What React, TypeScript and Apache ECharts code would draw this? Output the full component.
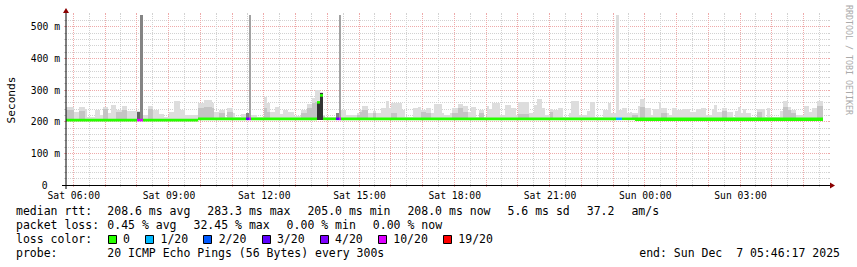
import { useEffect, useRef } from 'react';
import * as echarts from 'echarts';

// ---------- time / value frame ----------
const START_MINUTE = 346.28; // Sat 05:46:17 as minutes since Sat 00:00
const SPAN_MINUTES = 1440;
const STEP_MINUTES = 5; // one RRD step = 300 s
const Y_MAX_MS = 537;
const SMOKE_BASE_MS = 206;

// ---------- axis ticks ----------
const xTickLabels = ['Sat 06:00', 'Sat 09:00', 'Sat 12:00', 'Sat 15:00', 'Sat 18:00', 'Sat 21:00', 'Sun 00:00', 'Sun 03:00'];
const xTickMinutes = [360, 540, 720, 900, 1080, 1260, 1440, 1620];
const yTickValues = [0, 100, 200, 300, 400, 500];
const yTickLabels = ['0', '100 m', '200 m', '300 m', '400 m', '500 m'];

// ---------- smoke: [startStep, endStep, outerTopMs, innerTopMs] ----------
const smokeBlocks = [
  [0, 3, 247, 237], [3, 5, 230, 0], [5, 7, 245, 235], [7, 8, 240, 0], [8, 11, 216, 0],
  [11, 13, 237, 0], [13, 14, 221, 0], [14, 16, 247, 240], [16, 17, 226, 0], [17, 19, 253, 0],
  [19, 21, 237, 232], [21, 23, 250, 237], [23, 27, 234, 0], [27, 29, 234, 0], [29, 31, 221, 0],
  [31, 33, 250, 240], [33, 35, 237, 0], [35, 37, 223, 0], [37, 39, 216, 0], [39, 41, 232, 0],
  [41, 43, 265, 0], [43, 45, 237, 0], [45, 50, 221, 0], [50, 52, 258, 242], [52, 55, 268, 247],
  [55, 56, 258, 244], [56, 58, 232, 0], [58, 60, 237, 226], [60, 61, 216, 0], [61, 63, 242, 232],
  [63, 64, 226, 0], [64, 66, 216, 0], [66, 68, 223, 0], [70, 72, 221, 0], [72, 75, 216, 0],
  [75, 76, 279, 242], [76, 77, 258, 232], [77, 79, 232, 0], [79, 81, 247, 0], [81, 82, 223, 0],
  [82, 84, 237, 0], [84, 86, 232, 0], [86, 89, 219, 0], [89, 91, 237, 226], [91, 93, 255, 242],
  [93, 94, 274, 258], [94, 95, 300, 262], [95, 96, 300, 0], [96, 97, 295, 0], [97, 98, 221, 219],
  [98, 102, 216, 0], [104, 106, 237, 0], [106, 110, 221, 0], [110, 111, 226, 221], [111, 112, 237, 232],
  [112, 114, 250, 237], [114, 116, 226, 0], [116, 117, 234, 226], [117, 119, 226, 0], [119, 121, 242, 0],
  [121, 122, 265, 0], [122, 123, 242, 0], [123, 125, 258, 226], [125, 127, 258, 0], [127, 128, 237, 0],
  [128, 131, 216, 0], [131, 133, 242, 0], [133, 134, 247, 0], [134, 136, 237, 232], [136, 138, 242, 226],
  [138, 139, 226, 0], [139, 142, 255, 0], [142, 143, 226, 0], [143, 145, 221, 0], [145, 146, 226, 0],
  [146, 148, 242, 226], [148, 150, 255, 244], [150, 152, 250, 232], [152, 153, 232, 0], [153, 155, 247, 0],
  [155, 156, 216, 0], [156, 158, 237, 226], [158, 159, 216, 0], [159, 160, 250, 0], [160, 161, 240, 0],
  [161, 164, 258, 0], [164, 166, 221, 0], [166, 168, 253, 0], [168, 170, 242, 0], [170, 171, 221, 0],
  [171, 175, 261, 223], [175, 177, 226, 0], [177, 178, 253, 0], [178, 180, 272, 0], [180, 181, 242, 0],
  [181, 183, 221, 0], [183, 184, 240, 232], [184, 186, 237, 0], [186, 188, 244, 0], [188, 190, 216, 0],
  [190, 191, 226, 0], [191, 194, 265, 0], [194, 197, 221, 0], [197, 198, 234, 0], [198, 200, 261, 0],
  [200, 203, 216, 0], [203, 205, 237, 0], [205, 206, 258, 0], [206, 208, 226, 0], [209, 210, 237, 0],
  [210, 212, 244, 0], [212, 213, 226, 0], [213, 214, 232, 0], [214, 216, 226, 221], [216, 217, 250, 0],
  [217, 219, 272, 247], [219, 221, 244, 0], [221, 222, 221, 0], [222, 224, 240, 0], [224, 225, 261, 0],
  [225, 227, 242, 226], [227, 228, 226, 0], [228, 229, 221, 0], [229, 231, 242, 0], [231, 233, 237, 0],
  [233, 236, 240, 0], [236, 238, 232, 0], [238, 240, 240, 0], [240, 242, 244, 0], [242, 244, 221, 0],
  [244, 245, 240, 0], [245, 246, 253, 0], [246, 248, 230, 0], [248, 250, 244, 234], [250, 252, 230, 0],
  [252, 253, 216, 0], [253, 254, 234, 0], [254, 255, 247, 0], [255, 256, 226, 0], [256, 257, 240, 0],
  [257, 259, 226, 0], [259, 261, 216, 0], [261, 263, 240, 232], [263, 264, 240, 0], [264, 265, 216, 0],
  [265, 266, 242, 0], [266, 270, 216, 0], [270, 271, 234, 0], [271, 273, 265, 247], [273, 274, 247, 237],
  [274, 276, 237, 226], [276, 279, 221, 0], [279, 281, 250, 0], [281, 282, 232, 0], [282, 284, 242, 0],
  [284, 286, 265, 250],
];

// ---------- loss-affected smoke and spikes: [startStep, endStep, topMs, greyLevel] ----------
const darkBlocks = [
  [27, 29, 232, 4], [28, 29, 537, 3],
  [68, 70, 226, 3], [69, 70, 537, 2],
  [95, 96, 263, 5], [96, 97, 290, 5],
  [102, 104, 228, 3], [103, 104, 537, 2],
  [208, 209, 537, 0],
];

// ---------- median rtt: [startStep, endStep, lowMs, highMs, lossLevel] ----------
const medianSegments = [
  [0, 27, 205, 205, 0], [27, 29, 205, 205, 5], [29, 50, 205, 205, 0],
  [50, 68, 209, 209, 0], [68, 69, 209, 209, 3], [69, 70, 209, 209, 5], [70, 95, 209, 209, 0],
  [95, 96, 261, 261, 0], [96, 97, 283, 283, 0], [97, 102, 209, 209, 0],
  [102, 103, 209, 209, 3], [103, 104, 209, 209, 5], [104, 208, 209, 209, 0],
  [208, 210, 209, 209, 1], [210, 215, 209, 209, 0], [215, 286, 206.5, 209, 0],
];

// ---------- legend ----------
const rttStats = ['208.6 ms avg', '283.3 ms max', '205.0 ms min', '208.0 ms now', '5.6 ms sd', '37.2', 'am/s'];
const lossStats = ['0.45 % avg', '32.45 % max', '0.00 % min', '0.00 % now'];
const lossLabels = ['0', '1/20', '2/20', '3/20', '4/20', '10/20', '19/20'];
const probeText = '20 ICMP Echo Pings (56 Bytes) every 300s';
const endText = 'end: Sun Dec  7 05:46:17 2025';

// ---------- styles ----------
const GREYS = ['#dddddd', '#c4c4c4', '#a2a2a2', '#848484', '#626262', '#333333'];
const LOSS_COLORS = ['#26ff00', '#00b8ff', '#0059ff', '#5e00ff', '#7e00ff', '#dd00ff', '#ff0000'];
const MGRID = '#eeaaaa';
const GRID = '#d2d2d2';
const ARROW = '#8a0000';
const MONO = '"DejaVu Sans Mono"';
const font = (s: number) => `${s}px ${MONO}`;

const px = (v: number) => Math.floor(v) + 0.5;

function buildOption() {
  const gridSeries = {
    type: 'custom', z: 1, silent: true, clip: false,
    data: [[0, 0]],
    renderItem: (_p: any, api: any) => {
      const [left, bottom] = api.coord([0, 0]);
      const [right, top] = api.coord([SPAN_MINUTES, Y_MAX_MS]);
      const ch: any[] = [];
      for (let v = 20; v < Y_MAX_MS; v += 20) {
        const major = v % 100 === 0;
        const y = px(api.coord([0, v])[1]);
        const c = major ? MGRID : GRID;
        ch.push({ type: 'line', shape: { x1: left, y1: y, x2: right, y2: y }, style: { stroke: c, lineWidth: 1, lineDash: [1, 1] } });
        ch.push({ type: 'line', shape: { x1: left - 2, y1: y, x2: left, y2: y }, style: { stroke: c, lineWidth: 1 } });
        ch.push({ type: 'line', shape: { x1: right, y1: y, x2: right + 2, y2: y }, style: { stroke: c, lineWidth: 1 } });
      }
      for (let m = 360; m < START_MINUTE + SPAN_MINUTES; m += 30) {
        const major = m % 60 === 0;
        const x = px(api.coord([m - START_MINUTE, 0])[0]);
        const c = major ? MGRID : GRID;
        ch.push({ type: 'line', shape: { x1: x, y1: bottom, x2: x, y2: top }, style: { stroke: c, lineWidth: 1, lineDash: [1, 1] } });
        ch.push({ type: 'line', shape: { x1: x, y1: bottom, x2: x, y2: bottom + 2 }, style: { stroke: c, lineWidth: 1 } });
        ch.push({ type: 'line', shape: { x1: x, y1: top - 2, x2: x, y2: top }, style: { stroke: c, lineWidth: 1 } });
      }
      return { type: 'group', children: ch };
    },
  };

  const smokeSeries = {
    type: 'custom', z: 2, silent: true, clip: false,
    data: smokeBlocks,
    renderItem: (_p: any, api: any) => {
      const s0 = api.value(0), s1 = api.value(1), hi = api.value(2), mid = api.value(3);
      const x0 = Math.round(api.coord([s0 * STEP_MINUTES, 0])[0]);
      const x1 = Math.round(api.coord([s1 * STEP_MINUTES, 0])[0]);
      const yb = Math.round(api.coord([0, SMOKE_BASE_MS])[1]);
      const yh = Math.round(api.coord([0, hi])[1]);
      const children: any[] = [
        { type: 'rect', shape: { x: x0, y: yh, width: x1 - x0, height: yb - yh }, style: { fill: GREYS[0] } },
      ];
      if (mid > 0) {
        const ym = Math.round(api.coord([0, mid])[1]);
        children.push({ type: 'rect', shape: { x: x0, y: ym, width: x1 - x0, height: yb - ym }, style: { fill: GREYS[1] } });
      }
      return { type: 'group', children };
    },
  };

  const darkSeries = {
    type: 'custom', z: 3, silent: true, clip: false,
    data: darkBlocks,
    renderItem: (_p: any, api: any) => {
      const s0 = api.value(0), s1 = api.value(1), top = api.value(2), lvl = api.value(3);
      const x0 = Math.round(api.coord([s0 * STEP_MINUTES, 0])[0]);
      const x1 = Math.round(api.coord([s1 * STEP_MINUTES, 0])[0]);
      const yb = Math.round(api.coord([0, SMOKE_BASE_MS])[1]);
      const yt = Math.round(api.coord([0, top])[1]);
      return { type: 'rect', shape: { x: x0, y: yt, width: x1 - x0, height: yb - yt }, style: { fill: GREYS[lvl] } };
    },
  };

  const medianSeries = {
    type: 'custom', z: 4, silent: true, clip: false,
    data: medianSegments,
    renderItem: (_p: any, api: any) => {
      const s0 = api.value(0), s1 = api.value(1), lo = api.value(2), hi = api.value(3), loss = api.value(4);
      const x0 = Math.round(api.coord([s0 * STEP_MINUTES, 0])[0]);
      const x1 = Math.round(api.coord([s1 * STEP_MINUTES, 0])[0]);
      const yHi = api.coord([0, hi])[1] - 1.3;
      const yLo = api.coord([0, lo])[1] + 1.3;
      return { type: 'rect', shape: { x: x0, y: yHi, width: x1 - x0, height: yLo - yHi }, style: { fill: LOSS_COLORS[loss] } };
    },
  };

  const axisSeries = {
    type: 'custom', z: 5, silent: true, clip: false,
    data: [[0, 0]],
    renderItem: (_p: any, api: any) => {
      const [left, bottom] = api.coord([0, 0]);
      const [right, top] = api.coord([SPAN_MINUTES, Y_MAX_MS]);
      const yb = px(bottom);
      const ch: any[] = [
        { type: 'line', shape: { x1: left - 4, y1: yb, x2: right + 4, y2: yb }, style: { stroke: '#000', lineWidth: 1 } },
        { type: 'line', shape: { x1: left, y1: bottom + 4, x2: left, y2: top - 4 }, style: { stroke: '#000', lineWidth: 1 } },
        { type: 'polygon', shape: { points: [[right + 2, yb - 3], [right + 2, yb + 3], [right + 7, yb]] }, style: { fill: ARROW } },
        { type: 'polygon', shape: { points: [[left - 3, top - 2], [left + 3, top - 2], [left, top - 7]] }, style: { fill: ARROW } },
      ];
      xTickMinutes.forEach((m, i) => {
        const x = api.coord([m - START_MINUTE, 0])[0];
        ch.push({ type: 'text', x: x + 0.5, y: bottom + 10, style: { text: xTickLabels[i], font: font(9.7), fill: '#000', textAlign: 'center', textVerticalAlign: 'middle' } });
      });
      yTickValues.forEach((v, i) => {
        const y = api.coord([0, v])[1];
        const lbl = yTickLabels[i];
        const hasUnit = lbl.indexOf(' ') >= 0;
        ch.push({ type: 'text', x: hasUnit ? left - 6 : left - 18.5, y, style: { text: lbl, font: font(9.7), fill: '#000', textAlign: 'right', textVerticalAlign: 'middle' } });
      });
      return { type: 'group', children: ch };
    },
  };

  const CH = 6.92, GAP = 17, X_LABEL = 16, X_VAL = 107.3;
  const ROWS = [211, 225.1, 239.2, 253.3];
  const els: any[] = [];
  const txt = (text: string, x: number, y: number, extra: any = {}) => ({
    type: 'text', x, y, silent: true,
    style: { text, font: font(11.5), fill: '#000', textAlign: 'left', textVerticalAlign: 'middle', ...extra },
  });
  const row = (label: string, items: string[], y: number) => {
    els.push(txt(label, X_LABEL, y));
    let x = X_VAL;
    items.forEach((s) => { els.push(txt(s, x, y)); x += s.length * CH + GAP; });
  };
  row('median rtt:', rttStats, ROWS[0]);
  row('packet loss:', lossStats, ROWS[1]);
  els.push(txt('loss color:', X_LABEL, ROWS[2]));
  let bx = 108.3;
  lossLabels.forEach((l, i) => {
    els.push({ type: 'rect', silent: true, shape: { x: Math.floor(bx) + 0.5, y: 235.5, width: 8, height: 8 }, style: { fill: LOSS_COLORS[i], stroke: '#000', lineWidth: 1 } });
    const lx = bx + 14.8;
    els.push(txt(l, lx, ROWS[2]));
    bx = lx + l.length * CH + 15.7;
  });
  row('probe:', [probeText], ROWS[3]);
  els.push(txt(endText, 840, ROWS[3], { textAlign: 'right' }));
  els.push({ type: 'text', x: 11, y: 100, rotation: Math.PI / 2, silent: true, style: { text: 'Seconds', font: font(11.2), fill: '#000', textAlign: 'center', textVerticalAlign: 'middle' } });
  els.push({ type: 'text', x: 849, y: 60, rotation: -Math.PI / 2, silent: true, style: { text: 'RRDTOOL / TOBI OETIKER', font: font(8.3), fill: '#aaaaaa', textAlign: 'center', textVerticalAlign: 'middle' } });

  return {
    animation: false,
    backgroundColor: '#ffffff',
    grid: { left: 66, top: 15, width: 762, height: 170 },
    xAxis: { type: 'value', min: 0, max: SPAN_MINUTES, show: false },
    yAxis: { type: 'value', min: 0, max: Y_MAX_MS, show: false },
    series: [gridSeries, smokeSeries, darkSeries, medianSeries, axisSeries],
    graphic: { elements: els },
  };
}

export default function App() {
  const ref = useRef<HTMLDivElement>(null);
  useEffect(() => {
    if (!ref.current) return;
    const chart = echarts.init(ref.current, null, { renderer: 'svg' });
    chart.setOption(buildOption() as any);
    return () => chart.dispose();
  }, []);
  return <div ref={ref} style={{ position: 'absolute', left: 0, top: 0, width: 857, height: 267 }} />;
}
